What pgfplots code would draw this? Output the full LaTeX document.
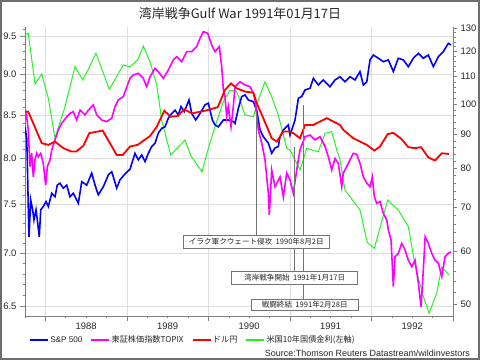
\documentclass[border=0pt]{standalone}
\usepackage{pgfplots}
\pgfplotsset{compat=1.18}
\usepackage{fontspec}
\setmainfont{Liberation Sans}
\newfontfamily\cjk{Noto Sans CJK JP}
\definecolor{cBlue}{RGB}{0,0,255}
\definecolor{cMag}{RGB}{255,0,255}
\definecolor{cRed}{RGB}{255,0,0}
\definecolor{cGreen}{RGB}{40,240,40}
\definecolor{cGrid}{RGB}{222,222,222}
\definecolor{cAxis}{RGB}{128,128,128}
\definecolor{cFrame}{RGB}{110,110,110}
\pgfplotsset{
  chartbase/.style={
    at={(25bp,44bp)}, anchor=south west, scale only axis,
    width=428bp, height=289bp,
    xmin=1987.75, xmax=1993,
    tick align=outside,
    major tick length=4bp, minor tick length=2.5bp,
    axis line style={cAxis, line width=0.8bp},
    tick style={cAxis, line width=0.6bp},
    tick label style={font=\fontsize{9.5}{11}\selectfont, text=black!85},
    /pgf/number format/assume math mode=true,
  }
}
\begin{document}
\begin{tikzpicture}[x=1bp,y=1bp]
\useasboundingbox (0,0) rectangle (480,360);
% left axis (US 10y)
\begin{axis}[chartbase, ymode=log,
  ymin=6.409, ymax=9.625,
  axis x line*=bottom, axis y line*=left,
  xtick={1988,1989,1990,1991,1992,1993}, xticklabels={},
  minor xtick={1987.75,1988.25,1988.5,1988.75,1989.25,1989.5,1989.75,1990.25,1990.5,1990.75,1991.25,1991.5,1991.75,1992.25,1992.5,1992.75},
  major tick length=5bp,
  extra x ticks={1988.5,1989.5,1990.5,1991.5,1992.5},
  extra x tick labels={1988,1989,1990,1991,1992},
  extra x tick style={major tick length=0bp, grid=none, tick style={draw=none},
    xticklabel style={yshift=-3.5bp}},
  ytick={6.5,7,7.5,8,8.5,9,9.5}, yticklabels={6.5,7.0,7.5,8.0,8.5,9.0,9.5},
  minor ytick={6.6,6.7,6.8,6.9,7.1,7.2,7.3,7.4,7.6,7.7,7.8,7.9,8.1,8.2,8.3,8.4,8.6,8.7,8.8,8.9,9.1,9.2,9.3,9.4,9.6},
  xmajorgrids, ymajorgrids,
  major grid style={cGrid, line width=0.7bp},
]
\addplot[cGreen, line width=1bp] coordinates {
(1987.750,9.517)(1987.790,9.540)(1987.873,8.884)(1987.955,9.009)(1988.036,8.706)(1988.118,8.230)(1988.241,8.604)(1988.363,9.102)(1988.458,8.934)(1988.527,9.069)(1988.621,9.276)(1988.784,8.817)(1988.956,9.124)(1989.038,9.102)(1989.132,9.188)(1989.201,9.371)(1989.283,9.166)(1989.366,8.871)(1989.427,8.444)(1989.537,8.038)(1989.713,8.210)(1989.786,8.027)(1989.921,7.852)(1989.999,8.115)(1990.081,8.366)(1990.183,8.665)(1990.265,8.808)(1990.347,8.787)(1990.449,8.504)(1990.551,8.484)(1990.612,8.686)(1990.694,8.912)(1990.776,8.726)(1990.857,8.504)(1990.960,8.115)(1991.001,8.095)(1991.123,7.871)(1991.206,8.115)(1991.267,8.095)(1991.348,8.076)(1991.430,8.288)(1991.512,8.307)(1991.574,8.095)(1991.614,7.982)(1991.675,7.653)(1991.859,7.440)(1991.949,7.106)(1992.035,7.050)(1992.199,7.546)(1992.329,7.440)(1992.452,7.268)(1992.534,6.886)(1992.624,6.617)(1992.706,6.434)(1992.800,6.617)(1992.862,6.870)(1992.951,6.790)
};
\end{axis}
% right axis
\begin{axis}[chartbase, ymode=log,
  ymin=47.96, ymax=130.6,
  axis x line=none, axis y line*=right,
  ytick={50,60,70,80,90,100,110,120,130},
  yticklabels={50,60,70,80,90,100,110,120,130},
  minor ytick={52,54,56,58,62,64,66,68,72,74,76,78,82,84,86,88,92,94,96,98,102,104,106,108,112,114,116,118,122,124,126,128},
  legend style={at={(0.0093,-0.083)}, anchor=west, draw=none, fill=none,
    inner sep=0pt, font=\fontsize{8.2}{9}\selectfont, text=black!85,
    nodes={inner sep=1.5bp},
    /tikz/every even column/.append style={column sep=6.5bp}},
  legend columns=4,
  legend image code/.code={\draw[#1] (0bp,0bp) -- (18bp,0bp);},
]
\addplot[cBlue, line width=1.6bp] coordinates {
(1987.750,92.4)(1987.771,88.8)(1987.778,82.4)(1987.790,70.1)(1987.799,63.1)(1987.820,71.7)(1987.844,69.3)(1987.860,66.9)(1987.885,69.3)(1987.901,66.9)(1987.925,63.1)(1987.943,69.3)(1987.974,70.1)(1988.008,71.3)(1988.036,70.1)(1988.078,73.4)(1988.118,72.5)(1988.146,75.5)(1988.179,76.0)(1988.220,74.7)(1988.262,75.5)(1988.302,72.5)(1988.342,73.4)(1988.404,70.9)(1988.446,76.4)(1988.507,75.5)(1988.568,78.7)(1988.609,75.5)(1988.649,73.0)(1988.711,75.1)(1988.772,78.2)(1988.814,79.1)(1988.875,74.7)(1988.915,76.9)(1988.977,78.5)(1989.038,79.8)(1989.099,84.3)(1989.140,82.4)(1989.182,83.8)(1989.222,81.9)(1989.263,84.3)(1989.304,86.3)(1989.345,87.3)(1989.385,90.4)(1989.427,91.9)(1989.467,92.4)(1989.508,95.2)(1989.550,96.8)(1989.590,97.9)(1989.631,96.3)(1989.664,99.1)(1989.704,97.4)(1989.762,101.4)(1989.795,96.8)(1989.844,94.6)(1989.897,96.8)(1989.958,99.7)(1989.999,100.3)(1990.048,94.6)(1990.081,93.0)(1990.121,92.4)(1990.183,94.6)(1990.244,94.6)(1990.305,94.1)(1990.326,93.5)(1990.367,98.5)(1990.408,102.6)(1990.449,103.2)(1990.489,101.4)(1990.551,100.8)(1990.592,97.9)(1990.633,91.4)(1990.673,89.3)(1990.735,87.3)(1990.776,84.3)(1990.817,85.9)(1990.857,86.3)(1990.878,89.3)(1990.919,91.4)(1990.980,93.0)(1991.001,89.8)(1991.062,94.6)(1991.103,102.0)(1991.144,102.6)(1991.185,105.0)(1991.246,105.6)(1991.287,109.3)(1991.348,106.8)(1991.409,108.7)(1991.491,106.2)(1991.553,108.7)(1991.614,109.9)(1991.675,108.0)(1991.737,109.9)(1991.798,108.7)(1991.859,111.9)(1991.900,106.8)(1991.942,108.0)(1991.982,116.5)(1992.023,118.5)(1992.084,117.2)(1992.145,115.8)(1992.207,116.5)(1992.268,111.9)(1992.329,117.2)(1992.391,116.5)(1992.452,113.8)(1992.513,117.2)(1992.575,119.2)(1992.636,117.2)(1992.697,118.5)(1992.759,113.8)(1992.820,117.8)(1992.881,119.9)(1992.943,123.4)(1992.976,122.7)
};
\addlegendentry{S\&P 500}
\addplot[cMag, line width=1.6bp] coordinates {
(1987.750,94.6)(1987.768,96.3)(1987.790,91.4)(1987.811,80.5)(1987.832,84.3)(1987.852,77.7)(1987.873,82.4)(1987.894,84.3)(1987.913,83.3)(1987.943,84.3)(1987.974,81.4)(1988.004,75.5)(1988.024,80.5)(1988.057,82.4)(1988.078,85.3)(1988.118,88.3)(1988.158,91.4)(1988.200,93.5)(1988.262,95.7)(1988.302,96.8)(1988.342,97.4)(1988.384,94.6)(1988.425,97.9)(1988.486,96.3)(1988.527,97.9)(1988.588,99.7)(1988.630,96.3)(1988.691,94.6)(1988.752,94.1)(1988.814,95.2)(1988.854,99.1)(1988.894,101.4)(1988.956,102.6)(1989.017,107.6)(1989.038,109.3)(1989.078,110.6)(1989.140,111.2)(1989.201,109.3)(1989.243,106.2)(1989.283,109.9)(1989.345,113.2)(1989.385,111.9)(1989.447,109.3)(1989.508,112.5)(1989.569,116.5)(1989.611,117.8)(1989.672,115.8)(1989.734,119.9)(1989.795,119.9)(1989.856,122.0)(1989.897,125.6)(1989.937,128.5)(1989.991,127.8)(1990.040,122.7)(1990.081,119.9)(1990.133,122.0)(1990.163,113.8)(1990.183,105.0)(1990.203,102.6)(1990.224,95.7)(1990.244,99.1)(1990.277,92.4)(1990.305,99.1)(1990.326,106.2)(1990.388,108.0)(1990.449,106.8)(1990.510,106.2)(1990.551,103.8)(1990.571,101.4)(1990.612,91.4)(1990.654,87.3)(1990.694,82.4)(1990.735,73.4)(1990.747,68.1)(1990.776,79.6)(1990.817,75.1)(1990.878,77.7)(1990.919,72.5)(1990.960,78.7)(1991.001,76.9)(1991.041,73.4)(1991.083,79.6)(1991.123,85.3)(1991.185,89.3)(1991.246,89.8)(1991.308,88.3)(1991.369,89.3)(1991.430,86.3)(1991.471,83.3)(1991.512,79.6)(1991.553,82.8)(1991.593,81.4)(1991.635,75.1)(1991.654,78.7)(1991.696,80.5)(1991.737,82.4)(1991.777,84.3)(1991.819,84.0)(1991.859,81.4)(1991.900,77.7)(1991.942,76.0)(1991.982,75.1)(1992.010,77.7)(1992.035,72.5)(1992.064,70.9)(1992.105,71.3)(1992.145,68.5)(1992.187,66.9)(1992.207,64.6)(1992.240,62.4)(1992.268,53.1)(1992.289,58.9)(1992.329,59.6)(1992.371,61.7)(1992.411,60.3)(1992.452,58.2)(1992.494,56.9)(1992.534,58.2)(1992.575,53.7)(1992.608,49.5)(1992.636,56.3)(1992.658,63.1)(1992.697,61.7)(1992.739,59.6)(1992.779,58.2)(1992.820,57.6)(1992.862,55.0)(1992.902,58.9)(1992.943,59.6)(1992.976,59.9)
};
\addlegendentry{\cjk{東証株価指数}TOPIX}
\addplot[cRed, line width=1.8bp] coordinates {
(1987.750,97.4)(1987.790,97.4)(1987.955,87.3)(1988.036,86.8)(1988.118,87.8)(1988.220,85.8)(1988.323,84.8)(1988.376,84.8)(1988.465,86.5)(1988.539,90.4)(1988.703,91.2)(1988.875,83.8)(1988.949,83.8)(1989.038,86.3)(1989.132,86.8)(1989.283,89.5)(1989.366,92.4)(1989.459,97.7)(1989.537,95.7)(1989.623,95.9)(1989.704,98.2)(1989.795,96.8)(1989.958,97.7)(1990.114,98.9)(1990.203,105.0)(1990.277,107.4)(1990.347,105.6)(1990.449,104.4)(1990.551,104.0)(1990.592,100.3)(1990.673,95.2)(1990.776,88.8)(1990.838,87.8)(1990.919,90.9)(1990.992,90.9)(1991.041,90.4)(1991.123,88.8)(1991.185,93.0)(1991.287,93.0)(1991.451,95.2)(1991.614,93.0)(1991.655,91.4)(1991.777,88.8)(1991.942,86.8)(1992.035,85.1)(1992.105,86.3)(1992.199,90.1)(1992.268,90.5)(1992.371,88.5)(1992.452,86.1)(1992.534,85.8)(1992.608,86.1)(1992.697,83.1)(1992.779,82.2)(1992.862,84.3)(1992.951,84.1)
};
\addlegendentry{\cjk{ドル円}}
\addlegendimage{color=cGreen, line width=1.6bp}
\addlegendentry{\cjk{米国}10\cjk{年国債金利(左軸)}}
\end{axis}
% event annotations
\draw[black!55, line width=0.8bp] (256,247) -- (256,125);
\draw[black!55, line width=0.8bp] (294,213) -- (294,88.3);
\draw[black!55, line width=0.8bp] (303,255) -- (303,61);
\tikzset{evbox/.style={draw=black!55, fill=white, line width=0.7bp, inner sep=0pt,
  font=\fontsize{7.6}{9}\selectfont, text=black!85}}
\node[evbox, minimum width=146bp, minimum height=13.3bp] at (256.3,118.3)
  {\cjk{イラク軍クウェート侵攻}\ \ 1990\cjk{年}8\cjk{月}2\cjk{日}};
\node[evbox, minimum width=126bp, minimum height=12.3bp] at (294.7,82.2)
  {\cjk{湾岸戦争開始}\ \ 1991\cjk{年}1\cjk{月}17\cjk{日}};
\node[evbox, minimum width=107.3bp, minimum height=11.7bp] at (304.7,55.2)
  {\cjk{戦闘終結}\ \ 1991\cjk{年}2\cjk{月}28\cjk{日}};
% title and source
\node[font=\fontsize{13}{15}\selectfont, text=black!85] at (240,346)
  {\cjk{湾岸戦争}Gulf War 1991\cjk{年}01\cjk{月}17\cjk{日}};
\node[anchor=east, font=\fontsize{9}{10}\selectfont, text=black!85, inner sep=0pt] at (470,7)
  {Source:Thomson Reuters Datastream/wildinvestors};
% outer frame
\draw[cFrame, line width=1.6bp] (0.8,0.8) rectangle (479.2,359.2);
\end{tikzpicture}
\end{document}
